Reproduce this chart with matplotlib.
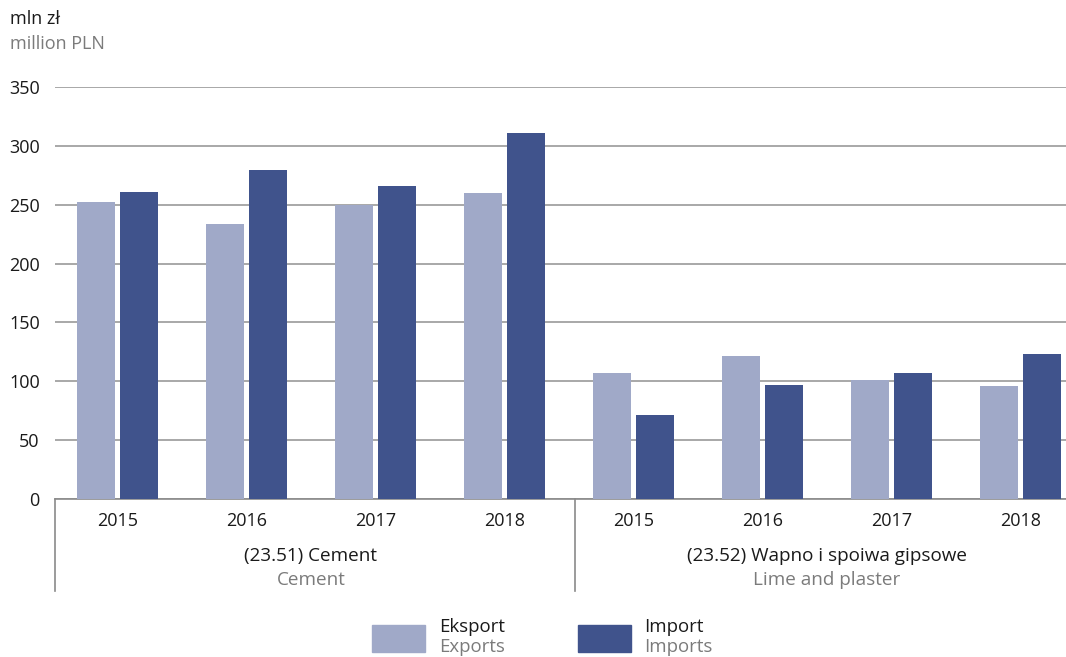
import matplotlib
matplotlib.use("Agg")
import matplotlib.pyplot as plt
import numpy as np
from matplotlib.patches import Rectangle

plt.rcParams['font.family'] = ['Open Sans', 'DejaVu Sans']

years = ["2015", "2016", "2017", "2018"]
groups_pl = ["(23.51) Cement", "(23.52) Wapno i spoiwa gipsowe"]
groups_en = ["Cement", "Lime and plaster"]
exports = [252, 234, 250, 260, 107, 121.5, 101, 96]
imports = [261, 279.5, 266, 311, 71.5, 97, 107, 123]
yticks = [0, 50, 100, 150, 200, 250, 300, 350]

C_EXP = "#A0A9C8"
C_IMP = "#40538C"
GREY_TXT = "#7b7b7b"
BLACK = "#1a1a1a"

W, H = 1066, 657
fig = plt.figure(figsize=(W / 100, H / 100), dpi=100)

ax_left, ax_bottom_px, ax_top_px = 55, 499, 87
ax = fig.add_axes([ax_left / W, (H - ax_bottom_px) / H, (W - ax_left) / W, (ax_bottom_px - ax_top_px) / H])

n = len(exports)
x = np.arange(n)
bw = 38 / 129
off = 21.5 / 129
ax.bar(x - off, exports, width=bw, color=C_EXP, zorder=3)
ax.bar(x + off, imports, width=bw, color=C_IMP, zorder=3)

ax.set_ylim(0, 350)
ax.set_xlim((55 - 117.5) / 129, (1066 - 117.5) / 129)
ax.set_yticks(yticks)
ax.set_yticklabels([str(v) for v in yticks], fontsize=13, color=BLACK)
ax.tick_params(axis='y', length=0, pad=11)
ax.set_xticks([])
for s in ['top', 'right', 'left']:
    ax.spines[s].set_visible(False)
ax.spines['bottom'].set_color('#8a8a8a')
ax.spines['bottom'].set_linewidth(1.2)
ax.grid(axis='y', color='#9a9a9a', linewidth=1.2, zorder=0)
ax.set_axisbelow(True)

tr = ax.get_xaxis_transform()
hpx = ax_bottom_px - ax_top_px
def fy(py):
    return (ax_bottom_px - py) / hpx

for i in range(n):
    ax.text(x[i], fy(521), years[i % 4], transform=tr, ha='center', va='center',
            fontsize=13, color=BLACK, clip_on=False)

sep = (574.5 - 117.5) / 129
lines_x = [ax.get_xlim()[0] + 0.002, sep]
for lx in lines_x:
    ax.plot([lx, lx], [0, fy(591)], transform=tr, color='#8a8a8a', lw=1.2, clip_on=False)

centers = [1.5, 5.5]
for c, pl, en in zip(centers, groups_pl, groups_en):
    ax.text(c, fy(556), pl, transform=tr, ha='center', va='center', fontsize=13.6,
            color=BLACK, clip_on=False)
    ax.text(c, fy(580), en, transform=tr, ha='center', va='center', fontsize=13.6,
            color=GREY_TXT, clip_on=False)

# unit labels
fig.text(10 / W, 1 - 19 / H, "mln zł", fontsize=13, color=BLACK, ha='left', va='center')
fig.text(10 / W, 1 - 44 / H, "million PLN", fontsize=13, color=GREY_TXT, ha='left', va='center')

# legend
def patch(x0, x1, y0, y1, col):
    fig.patches.append(Rectangle((x0 / W, 1 - y1 / H), (x1 - x0) / W, (y1 - y0) / H,
                                 transform=fig.transFigure, color=col, figure=fig))
patch(372, 425, 625, 652, C_EXP)
patch(578, 631, 625, 652, C_IMP)
fig.text(439 / W, 1 - 632 / H, "Eksport", fontsize=13.4, color=BLACK, ha='left', va='baseline')
fig.text(439 / W, 1 - 652 / H, "Exports", fontsize=13.4, color=GREY_TXT, ha='left', va='baseline')
fig.text(644 / W, 1 - 632 / H, "Import", fontsize=13.4, color=BLACK, ha='left', va='baseline')
fig.text(644 / W, 1 - 652 / H, "Imports", fontsize=13.4, color=GREY_TXT, ha='left', va='baseline')

fig.savefig("out.png", dpi=100)
